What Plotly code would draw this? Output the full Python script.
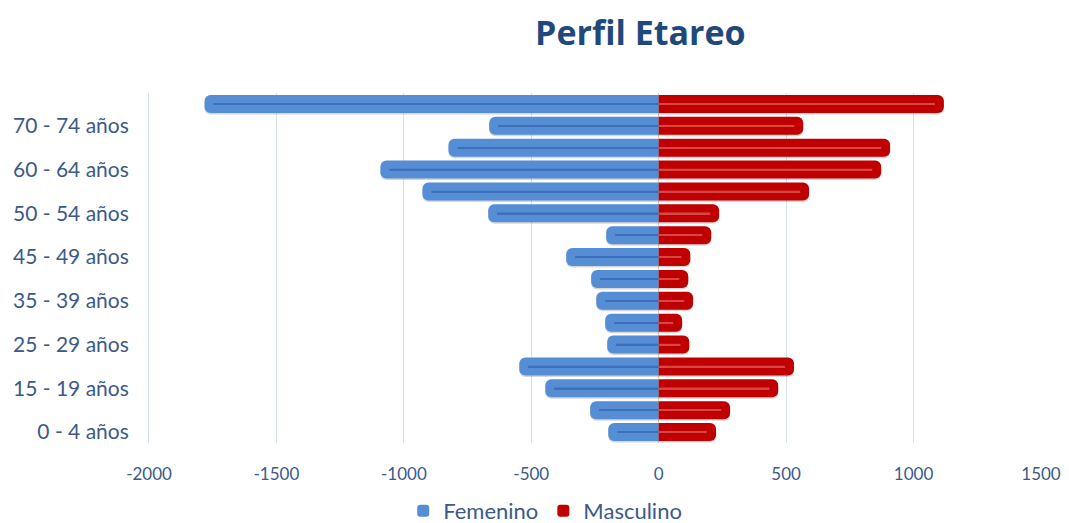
import plotly.graph_objects as go

# age groups, bottom to top
age_groups = ["0 - 4 años", "5 - 9 años", "15 - 19 años", "20 - 24 años",
              "25 - 29 años", "30 - 34 años", "35 - 39 años", "40 - 44 años",
              "45 - 49 años", "46 - 49 años", "50 - 54 años", "55 - 59 años",
              "60 - 64 años", "65 - 69 años", "70 - 74 años", "75 y más"]
shown_labels = ["0 - 4 años", "15 - 19 años", "25 - 29 años", "35 - 39 años",
                "45 - 49 años", "50 - 54 años", "60 - 64 años", "70 - 74 años"]
femenino = [198, 269, 445, 547, 202, 210, 245, 265, 363, 206, 669, 927, 1092, 825, 665, 1782]
masculino = [225, 280, 469, 531, 120, 92, 135, 116, 124, 206, 237, 590, 873, 908, 567, 1119]
x_ticks = [-2000, -1500, -1000, -500, 0, 500, 1000, 1500]

blue = "#558ED5"
red = "#C00000"
text_col = "#3B5A8A"

fem_neg = [-v for v in femenino]

fig = go.Figure()

# soft shadow behind each bar
for vals in (fem_neg, masculino):
    fig.add_trace(go.Bar(
        y=age_groups, x=vals, orientation="h", width=0.82, offset=-0.48,
        marker=dict(color="rgba(0,0,0,0.16)", line=dict(width=0)),
        showlegend=False, hoverinfo="skip"
    ))

fig.add_trace(go.Bar(
    y=age_groups, x=fem_neg, orientation="h", name="Femenino", width=0.82,
    marker=dict(color=blue, line=dict(color=blue, width=0)),
    customdata=femenino,
    hovertemplate="%{y}<br>Femenino: %{customdata}<extra></extra>"
))
fig.add_trace(go.Bar(
    y=age_groups, x=masculino, orientation="h", name="Masculino", width=0.82,
    marker=dict(color=red, line=dict(color=red, width=0)),
    hovertemplate="%{y}<br>Masculino: %{x}<extra></extra>"
))

# thin line through the middle of each bar
fig.add_trace(go.Bar(
    y=age_groups, x=[v + 35 for v in fem_neg], orientation="h", width=0.07,
    marker=dict(color="#3F6FB8", line=dict(width=0)),
    showlegend=False, hoverinfo="skip"
))
fig.add_trace(go.Bar(
    y=age_groups, x=[v - 35 for v in masculino], orientation="h", width=0.07,
    marker=dict(color="#D44848", line=dict(width=0)),
    showlegend=False, hoverinfo="skip"
))

fig.update_layout(
    width=1061, height=515,
    barmode="overlay",
    barcornerradius=6,
    plot_bgcolor="white", paper_bgcolor="white",
    font=dict(family="Lato", color=text_col, size=18),
    title=dict(text="<b>Perfil Etareo</b>", x=0.596, xanchor="center",
               y=1 - 25 / 515, yanchor="middle",
               font=dict(size=34, color="#1F497D", family="Open Sans")),
    margin=dict(l=141, r=28, t=85, b=80, autoexpand=False),
    showlegend=True,
    legend=dict(orientation="h", x=0.285, xanchor="left", y=-0.194,
                yanchor="middle", font=dict(size=22, color=text_col),
                itemwidth=30, traceorder="normal"),
    xaxis=dict(range=[-2000, 1500], tickvals=x_ticks,
               ticktext=[str(v) for v in x_ticks],
               showgrid=True, gridcolor="#D6E2F0", gridwidth=1,
               zeroline=True, zerolinecolor="#D0D0D0", zerolinewidth=1,
               ticks="", ticklabelstandoff=19,
               tickfont=dict(size=17, family="Lato", color=text_col)),
    yaxis=dict(type="category", categoryorder="array", categoryarray=age_groups,
               range=[-0.5, len(age_groups) - 0.5],
               tickmode="array", tickvals=shown_labels, ticktext=shown_labels,
               showgrid=False, ticks="", ticklabelstandoff=15,
               showline=True, linecolor="#D6E2F0",
               tickfont=dict(size=21, color=text_col)),
)

fig.write_html("out.html")
